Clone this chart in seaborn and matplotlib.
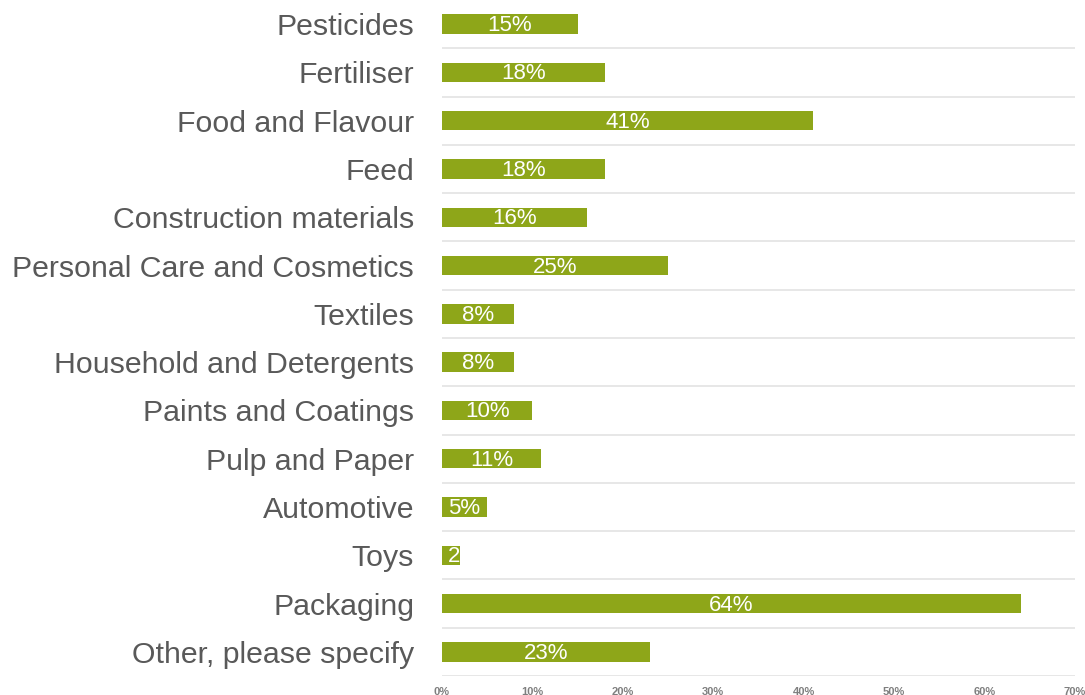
import matplotlib
matplotlib.use("Agg")
import matplotlib.pyplot as plt
import seaborn as sns
import pandas as pd

categories = [
    "Pesticides", "Fertiliser", "Food and Flavour", "Feed",
    "Construction materials", "Personal Care and Cosmetics", "Textiles",
    "Household and Detergents", "Paints and Coatings", "Pulp and Paper",
    "Automotive", "Toys", "Packaging", "Other, please specify",
]
values = [15, 18, 41, 18, 16, 25, 8, 8, 10, 11, 5, 2, 64, 23]
x_ticks = [0, 10, 20, 30, 40, 50, 60, 70]

bar_color = "#8EA619"
label_color = "#595959"

sns.set_style("white")
plt.rcParams["font.family"] = ["Liberation Sans", "DejaVu Sans"]

df = pd.DataFrame({"category": categories, "value": values})

fig = plt.figure(figsize=(10.85, 6.95), dpi=100)
ax = fig.add_axes([442 / 1085, 19 / 695, (1075 - 442) / 1085, 676 / 695])

sns.barplot(data=df, x="value", y="category", orient="h", color=bar_color,
            width=0.4, saturation=1, ax=ax, edgecolor="none")

ax.set_xlim(0, 70)
ax.set_ylim(len(categories) - 0.5, -0.5)
ax.set_xticks(x_ticks)
ax.set_xticklabels([f"{t}%" for t in x_ticks], fontsize=8, color="#7f7f7f",
                   fontweight="bold")
ax.set_xlabel("")
ax.set_ylabel("")
ax.tick_params(axis="x", length=0, pad=8)
ax.tick_params(axis="y", length=0, pad=20, labelsize=21.8, labelcolor=label_color)

for s in ax.spines.values():
    s.set_visible(False)

# separators between category bands
for i in range(len(categories)):
    ax.axhline(i + 0.5, color="#e3e3e3", lw=1.2, zorder=0)

# white value labels centred in each bar; narrow bars start the label at the
# bar's left edge and clip it to the bar
for bar, v in zip(ax.patches, values):
    cy = bar.get_y() + bar.get_height() / 2 + 0.03
    if v < 3:
        t = ax.text(bar.get_x() + 0.65, cy, f"{v}%", color="white",
                    fontsize=16, ha="left", va="center")
    else:
        t = ax.text(bar.get_x() + bar.get_width() / 2, cy, f"{v}%",
                    color="white", fontsize=16, ha="center", va="center")
    t.set_clip_path(bar)

fig.savefig("out.png", dpi=100)
